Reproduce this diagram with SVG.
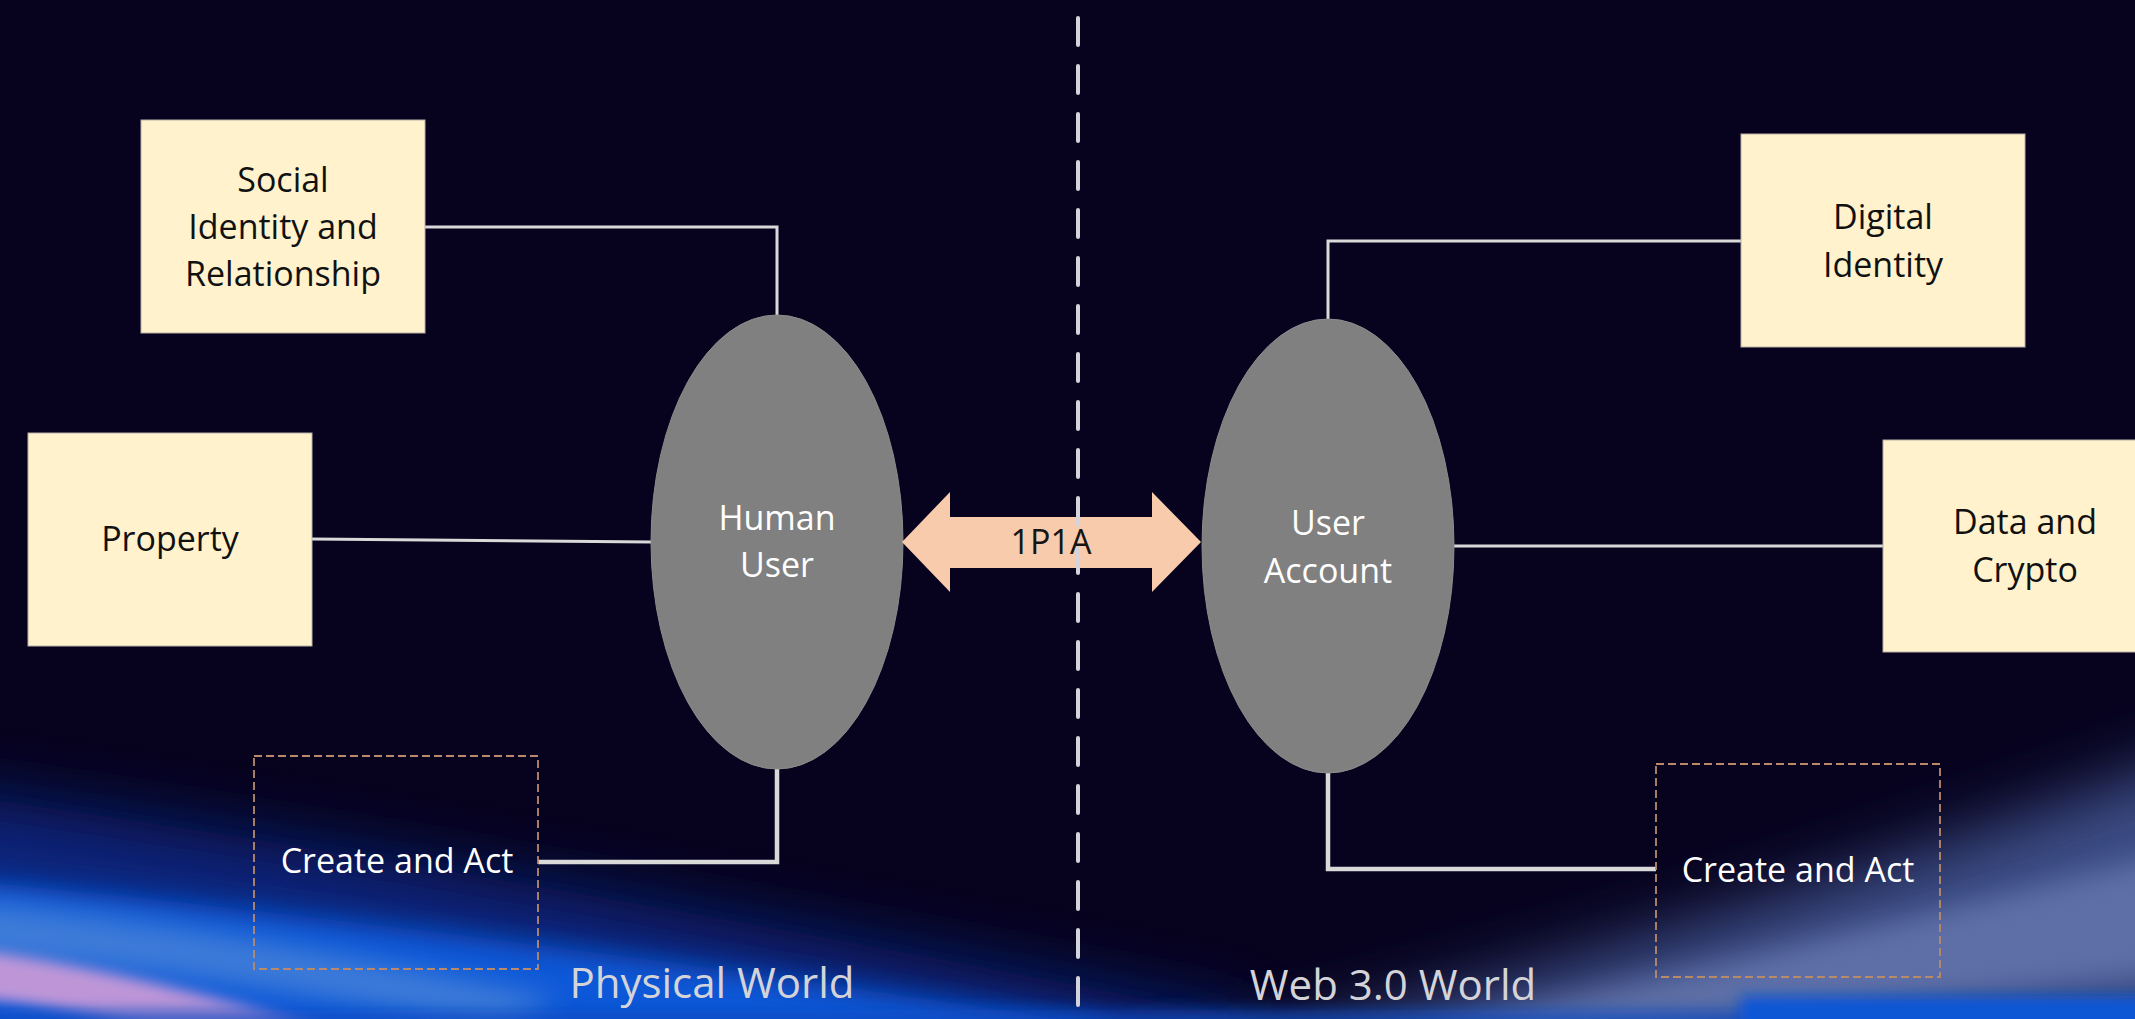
<svg xmlns="http://www.w3.org/2000/svg" width="2135" height="1019" viewBox="0 0 2135 1019">
  <style>
    .box { fill: #fff2cc; stroke: #b8b0a8; stroke-width: 1; }
    .box-text { font-family: "Open Sans", "Noto Sans", sans-serif; font-size: 34px; fill: #111111; text-anchor: middle; }
    .oval { fill: #808080; stroke: #8c8c8c; stroke-width: 1; }
    .oval-text { font-family: "Open Sans", "Noto Sans", sans-serif; font-size: 34px; fill: #ffffff; text-anchor: middle; }
    .dash-box { fill: none; stroke: #b98a6a; stroke-width: 1.8; stroke-dasharray: 8 4; }
    .dash-text { font-family: "Open Sans", "Noto Sans", sans-serif; font-size: 34px; fill: #ffffff; text-anchor: middle; }
    .wire { fill: none; stroke: #d9d9d9; stroke-width: 3; }
    .wire-thick { fill: none; stroke: #d9d9d9; stroke-width: 4.5; }
    .world { font-family: "Open Sans", "Noto Sans", sans-serif; font-size: 42px; fill: #d4d4d8; text-anchor: middle; }
    .link-label { font-family: "Open Sans", "Noto Sans", sans-serif; font-size: 34px; fill: #151515; text-anchor: middle; }
  </style>
  <defs>
    <filter id="blur-wide" x="-30%" y="-100%" width="160%" height="300%">
      <feGaussianBlur stdDeviation="32"/>
    </filter>
    <filter id="blur-mid" x="-30%" y="-100%" width="160%" height="300%">
      <feGaussianBlur stdDeviation="14"/>
    </filter>
    <filter id="blur-soft" x="-30%" y="-200%" width="160%" height="500%">
      <feGaussianBlur stdDeviation="7"/>
    </filter>
    <filter id="blur-thin" x="-10%" y="-300%" width="120%" height="700%">
      <feGaussianBlur stdDeviation="2"/>
    </filter>
  </defs>

  <!-- backdrop -->
  <g id="backdrop">
    <rect x="0" y="0" width="2135" height="1019" fill="#07031f"/>
    <!-- deep blue sweep, lower left -->
    <path d="M -150 780 Q 450 860 1250 1019 L 1250 1120 L -150 1120 Z" fill="#0a2c8c" opacity="0.85" filter="url(#blur-wide)"/>
    <path d="M -150 870 Q 420 920 1100 1025 L 1100 1120 L -150 1120 Z" fill="#0a58d8" filter="url(#blur-mid)"/>
    <!-- pale band inside the blue sweep -->
    <path d="M -40 900 Q 220 925 560 1000 L 500 1030 Q 180 965 -40 958 Z" fill="#5088d8" opacity="0.75" filter="url(#blur-mid)"/>
    <!-- lavender streak -->
    <path d="M -40 948 Q 130 968 360 1040 L 230 1055 Q 80 1005 -40 998 Z" fill="#c89ad8" opacity="0.95" filter="url(#blur-soft)"/>
    <!-- grey-blue sweep, lower right -->
    <path d="M 1050 1090 Q 1650 960 2260 730 L 2260 1090 Z" fill="#4a5e9e" opacity="0.8" filter="url(#blur-wide)"/>
    <path d="M 1350 1045 Q 1800 950 2260 830 L 2260 965 Q 1800 1010 1500 1055 Z" fill="#7a8cc2" opacity="0.55" filter="url(#blur-mid)"/>
    <!-- bright blue along the bottom edge -->
    <rect x="-40" y="1010" width="2220" height="40" fill="#0a4cc2" opacity="0.7" filter="url(#blur-soft)"/>
    <rect x="1740" y="996" width="440" height="50" fill="#0a56d6" filter="url(#blur-soft)"/>
    <!-- horizontal light streak -->
    <line x1="1760" y1="989" x2="2160" y2="989" stroke="#b8c8f2" stroke-width="3" filter="url(#blur-thin)"/>
  </g>

  <!-- connectors -->
  <g id="connectors">
    <polyline class="wire" points="425,227 777,227 777,315"/>
    <line class="wire" x1="312" y1="539" x2="651" y2="542"/>
    <polyline class="wire-thick" points="538,862 777,862 777,769"/>
    <polyline class="wire" points="1741,241 1328,241 1328,320"/>
    <line class="wire" x1="1454" y1="546" x2="1883" y2="546"/>
    <polyline class="wire-thick" points="1656,869 1328,869 1328,773"/>
  </g>

  <!-- physical side -->
  <g id="social-identity">
    <rect class="box" x="141" y="120" width="284" height="213"/>
    <text class="box-text" x="283" y="192">Social</text>
    <text class="box-text" x="283" y="239">Identity and</text>
    <text class="box-text" x="283" y="286">Relationship</text>
  </g>
  <g id="property">
    <rect class="box" x="28" y="433" width="284" height="213"/>
    <text class="box-text" x="170" y="551">Property</text>
  </g>
  <g id="create-act-physical">
    <rect class="dash-box" x="254" y="756" width="284" height="213"/>
    <text class="dash-text" x="397" y="873">Create and Act</text>
  </g>
  <g id="human-user">
    <ellipse class="oval" cx="777" cy="542" rx="126" ry="227"/>
    <text class="oval-text" x="777" y="530">Human</text>
    <text class="oval-text" x="777" y="577">User</text>
  </g>

  <!-- web 3.0 side -->
  <g id="digital-identity">
    <rect class="box" x="1741" y="134" width="284" height="213"/>
    <text class="box-text" x="1883" y="229">Digital</text>
    <text class="box-text" x="1883" y="277">Identity</text>
  </g>
  <g id="data-crypto">
    <rect class="box" x="1883" y="440" width="284" height="212"/>
    <text class="box-text" x="2025" y="534">Data and</text>
    <text class="box-text" x="2025" y="582">Crypto</text>
  </g>
  <g id="create-act-web3">
    <rect class="dash-box" x="1656" y="764" width="284" height="213"/>
    <text class="dash-text" x="1798" y="882">Create and Act</text>
  </g>
  <g id="user-account">
    <ellipse class="oval" cx="1328" cy="546" rx="126" ry="227"/>
    <text class="oval-text" x="1328" y="535">User</text>
    <text class="oval-text" x="1328" y="583">Account</text>
  </g>

  <!-- one person, one account link -->
  <g id="link-1p1a">
    <polygon points="902,542 950,492 950,517 1152,517 1152,492 1201,542 1152,592 1152,568 950,568 950,592" fill="#f8cbad"/>
  </g>

  <!-- divider between the two worlds -->
  <g id="divider">
    <line x1="1078" y1="18" x2="1078" y2="1030" stroke="#d4d4dc" stroke-width="4" stroke-linecap="round" stroke-dasharray="27 21"/>
  </g>

  <g id="labels">
    <text class="link-label" x="1051" y="554">1P1A</text>
    <text class="world" x="712" y="998">Physical World</text>
    <text class="world" x="1393" y="1000">Web 3.0 World</text>
  </g>
</svg>
